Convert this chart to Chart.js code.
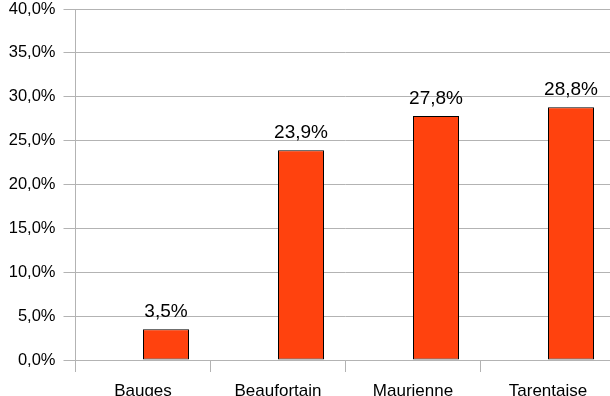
<!DOCTYPE html>
<html>
<head>
<meta charset="utf-8">
<script src="https://cdn.jsdelivr.net/npm/chart.js@4/dist/chart.umd.min.js"></script>
<style>
  html, body { margin: 0; padding: 0; background: #fff; overflow: hidden; }
  #wrap { width: 616px; height: 396px; position: relative; }
</style>
</head>
<body>
<div id="wrap"><canvas id="chart"></canvas></div>
<script>
// ── data ──
const categories = ['Bauges', 'Beaufortain', 'Maurienne', 'Tarentaise'];
const shares = [3.5, 23.9, 27.8, 28.8];      // %
const placeholder = [null, null, null, null]; // empty first series (bars sit right of centre)
const yTicks = [0, 5, 10, 15, 20, 25, 30, 35, 40];

const fmtPct = v => v.toFixed(1).replace('.', ',') + '%';
const GRID = '#b3b3b3';
const FONT = "'Liberation Sans', Arial, sans-serif";

// ── labels above bars ──
const valueLabels = {
  id: 'valueLabels',
  afterDatasetsDraw(chart) {
    const ctx = chart.ctx;
    const meta = chart.getDatasetMeta(1);
    meta.data.forEach((bar, i) => {
      const v = shares[i];
      if (v == null) return;
      ctx.save();
      ctx.font = `19px ${FONT}`;
      ctx.fillStyle = '#000';
      ctx.textAlign = 'center';
      ctx.textBaseline = 'alphabetic';
      ctx.fillText(fmtPct(v), bar.x, bar.y - 12);
      ctx.restore();
    });
  },
};

new Chart(document.getElementById('chart'), {
  type: 'bar',
  data: {
    labels: categories,
    datasets: [
      { label: '', data: placeholder },
      {
        label: 'Part',
        data: shares,
        backgroundColor: '#ff420e',
        borderColor: '#000',
        borderWidth: 1,
        borderSkipped: false,
      },
    ],
  },
  plugins: [valueLabels],
  options: {
    responsive: true,
    maintainAspectRatio: false,
    animation: false,
    categoryPercentage: 92 / 135,
    barPercentage: 1,
    layout: { padding: { top: 9, right: 0.5, left: 0, bottom: 0 } },
    plugins: {
      legend: { display: false },
      tooltip: { enabled: false },
      title: { display: false },
    },
    scales: {
      x: {
        grid: { display: true, drawOnChartArea: false, drawTicks: true, tickLength: 12, color: GRID, offset: true },
        border: { display: true, color: GRID },
        ticks: { font: { family: FONT, size: 17 }, color: '#000', padding: 9, maxRotation: 0 },
        afterFit(scale) {
          scale.height = 36;
          scale.paddingLeft = 0;
          scale.paddingRight = 0;
        },
      },
      y: {
        min: 0,
        max: 40,
        afterBuildTicks(scale) { scale.ticks = yTicks.map(v => ({ value: v })); },
        grid: { color: GRID, tickLength: 12, drawTicks: true },
        border: { display: true, color: GRID },
        ticks: {
          font: { family: FONT, size: 16.5 },
          color: '#000',
          padding: 8,
          callback: v => fmtPct(v),
        },
        afterFit(scale) {
          scale.width = 75.5;
          scale.paddingTop = 0;
          scale.paddingBottom = 0;
        },
      },
    },
  },
});
</script>
</body>
</html>
